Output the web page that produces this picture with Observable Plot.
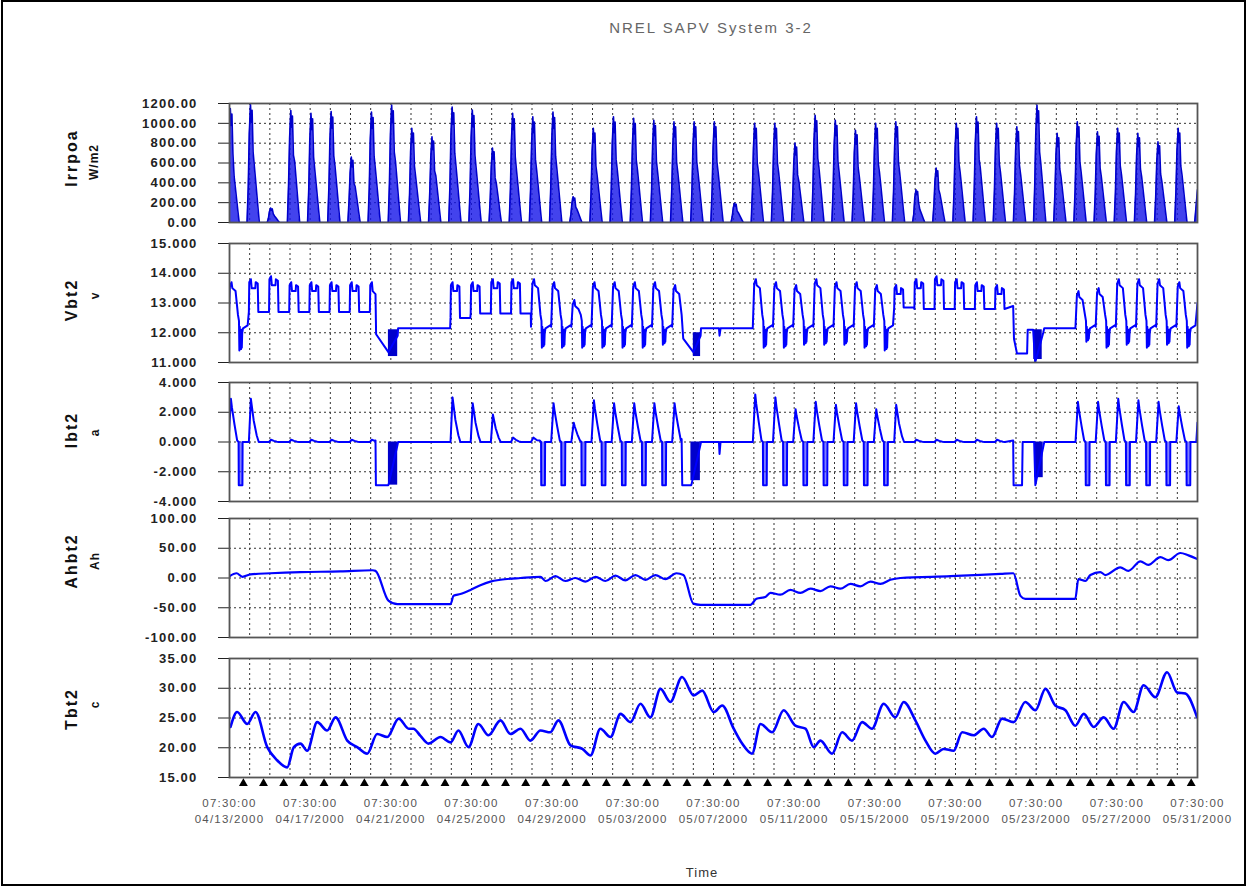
<!DOCTYPE html>
<html><head><meta charset="utf-8">
<script src="https://cdn.jsdelivr.net/npm/d3@7"></script>
<script src="https://cdn.jsdelivr.net/npm/@observablehq/plot@0.6"></script>
<style>
html,body{margin:0;padding:0;background:#fff;}
#page{position:relative;width:1247px;height:888px;overflow:hidden;background:#fff;font-family:"Liberation Sans",Arial,sans-serif;}
#frame{position:absolute;left:1px;top:0px;width:1241px;height:882px;border:2px solid #000;pointer-events:none;}
.t{position:absolute;white-space:nowrap;}
.yt{position:absolute;white-space:nowrap;transform:translate(-50%,-50%) rotate(-90deg);color:#111;font-weight:bold;}
#page svg text{letter-spacing:1.2px;}
</style></head><body>
<div id="page">
  <div id="frame"></div>
  <div class="t" style="left:711px;top:27px;transform:translate(-50%,-50%);font-size:15px;color:#666;letter-spacing:2px;">NREL SAPV System 3-2</div>
  <div class="yt" style="left:72px;top:158px;font-size:16px;letter-spacing:2px;">Irrpoa</div>
  <div class="yt" style="left:94px;top:162px;font-size:12px;letter-spacing:1px;">W/m2</div>
  <div class="yt" style="left:72px;top:300px;font-size:16px;letter-spacing:2px;">Vbt2</div>
  <div class="yt" style="left:95px;top:296px;font-size:12px;">v</div>
  <div class="yt" style="left:72px;top:430px;font-size:16px;letter-spacing:2px;">Ibt2</div>
  <div class="yt" style="left:95px;top:433px;font-size:12px;">a</div>
  <div class="yt" style="left:72px;top:561px;font-size:16px;letter-spacing:2px;">Ahbt2</div>
  <div class="yt" style="left:95px;top:561px;font-size:12px;letter-spacing:1px;">Ah</div>
  <div class="yt" style="left:72px;top:709px;font-size:16px;letter-spacing:2px;">Tbt2</div>
  <div class="yt" style="left:95px;top:705px;font-size:12px;">c</div>
  <div class="t" style="left:702px;top:872px;transform:translate(-50%,-50%);font-size:13px;color:#333;letter-spacing:1px;">Time</div>
</div>
<script>
// ---------- time axis ----------
const startUTC = Date.UTC(2000, 3, 13, 7, 30);   // 04/13/2000 07:30:00
const nDays = 48;                                  // to 05/31/2000 07:30:00
const labelDays = [0, 4, 8, 12, 16, 20, 24, 28, 32, 36, 40, 44, 48];

// ---------- Irrpoa (W/m2): daily peak and afternoon level read per day ----------
const irrPeak = [1150,1190,145,1130,1100,1120,660,1115,1185,950,865,1165,1135,750,1100,1065,1115,260,950,1065,1050,1030,1015,1015,1015,195,1000,1000,800,1080,1030,930,1000,1015,330,550,1000,1065,1000,965,1185,900,1015,915,950,900,815,950];
const irrMid  = [420,520,60,560,480,520,330,500,560,420,430,520,500,360,480,480,500,120,430,480,480,460,460,460,460,90,460,460,380,500,460,420,460,460,120,260,460,500,460,440,540,420,460,420,440,420,380,440];
const irrEnd = 330;

// ---------- battery regime per day: C = cycling, F = float/regulated, L = low flat ----------
const dayMode = ["C","F","F","F","F","F","F","F","L","L","L","F","F","F","F","C","C","C","C","C","C","C","C","L","L","L","C","C","C","C","C","C","C","F","F","F","F","F","F","L","L","L","C","C","C","C","C","C"];
// Vbt2 (v)
const vPeak = [13.7,13.8,13.9,13.7,13.7,13.7,13.7,13.7,null,null,null,13.7,13.7,13.8,13.8,13.8,13.7,13.1,13.7,13.7,13.7,13.7,13.6,null,null,null,13.8,13.7,13.6,13.8,13.7,13.7,13.6,13.6,13.8,13.9,13.8,13.7,13.6,null,null,null,13.4,13.5,13.8,13.8,13.8,13.7];
const vLow  = [11.4,12.7,12.7,12.7,12.7,12.7,12.7,12.7,12.15,12.15,12.15,12.5,12.65,12.65,12.65,11.5,11.5,11.5,11.5,11.5,11.5,11.6,11.5,12.15,12.15,12.15,11.5,11.5,11.6,11.6,11.6,11.5,11.4,12.85,12.8,12.8,12.8,12.8,12.8,12.15,12.15,12.15,11.7,11.5,11.6,11.5,11.6,11.5];
const vEnd = 13.0;
// Ibt2 (a)
const iPeak = [2.9,2.9,0.15,0.15,0.15,0.15,0.15,0.15,0,0,0,3.0,2.6,1.85,0.3,0.3,2.6,1.3,2.8,2.6,2.6,2.6,2.6,0,0,0,3.2,3.0,2.2,2.7,2.5,2.6,2.2,2.5,0.15,0.15,0.15,0.15,0.15,0,0,0,2.7,2.7,2.9,2.8,2.7,2.4];
const loadCurrent = -2.9;
const iEnd = 1.3;

// ---------- low-voltage events (read directly) ----------
const eventSpans = [[7.24, 8.36], [22.42, 23.38], [24.27, 24.35], [38.86, 40.4]];
const voltEventPts = [[7.24,13.3],[7.27,11.95],[7.88,11.35],[8.34,11.9],[8.36,12.15],
  [22.42,12.6],[22.5,11.8],[23.0,11.35],[23.36,11.9],[23.38,12.15],
  [24.27,12.15],[24.3,11.9],[24.35,12.15],
  [38.86,12.9],[38.9,11.8],[39.05,11.3],[39.55,11.3],[39.58,12.1],[39.85,12.1],[39.95,11.0],[40.35,12.0],[40.4,12.15]];
const voltBlobs = [[7.88,8.34,11.2,12.1],[23.0,23.36,11.2,12.0],[39.88,40.3,11.1,12.1]];
const currEventPts = [[7.24,0.1],[7.26,-2.9],[7.88,-2.9],[8.33,-0.2],[8.36,0],
  [22.42,0.2],[22.45,-2.9],[22.9,-2.9],[23.35,-0.2],[23.38,0],
  [24.27,0],[24.3,-0.8],[24.35,0],
  [38.86,0.1],[38.88,-2.9],[39.3,-2.9],[39.33,0],[39.9,0],[39.96,-2.9],[40.4,0]];
const currBlobs = [[7.88,8.34,-2.9,0],[22.88,23.35,-2.6,0],[39.93,40.35,-2.4,0]];

// ---------- Ahbt2 (Ah) ----------
const ahDays = [0,0.35,0.64,1.04,2.03,3.52,5.50,7.09,7.24,7.88,8.33,10.96,11.11,11.45,11.95,12.44,12.94,13.44,14.43,15.42,15.67,16.16,16.66,17.15,17.65,18.15,18.64,19.14,19.63,20.13,20.63,21.12,21.62,22.16,22.51,23.00,23.35,25.83,26.13,26.57,26.82,27.31,27.81,28.31,28.81,29.30,29.80,30.29,30.79,31.28,31.78,32.28,32.77,33.27,35.75,38.23,38.87,39.22,39.46,41.94,42.09,42.44,42.69,43.18,43.43,44.17,44.57,45.17,45.56,46.16,46.55,47.15,47.55,47.99];
const ahVals = [3,8,2,6,8,10,11,13,12,-38,-44,-44,-30,-27,-20,-12,-6,-3,0,2,-5,3,-5,0,-6,2,-5,4,-4,5,-3,5,-2,8,5,-43,-45,-45,-35,-32,-25,-28,-20,-25,-18,-22,-14,-18,-10,-14,-6,-10,-3,0,3,7,8,-30,-35,-35,-2,-5,5,10,5,18,12,28,22,35,30,42,38,32];

// ---------- Tbt2 (c) ----------
const tDays = [0.05,0.38,0.88,1.29,1.87,2.36,2.86,3.19,3.52,3.85,4.35,4.84,5.26,5.84,6.33,6.83,7.32,7.82,8.39,8.89,9.12,9.47,9.87,10.46,10.96,11.35,11.85,12.34,12.84,13.44,13.93,14.43,14.92,15.42,15.91,16.31,16.91,17.50,17.90,18.39,18.89,19.39,19.88,20.38,20.87,21.37,21.86,22.44,23.02,23.44,24.01,24.43,25.00,25.42,25.91,26.33,26.91,27.48,28.06,28.56,28.97,29.30,29.88,30.38,30.87,31.37,31.86,32.44,33.02,33.43,34.01,34.51,35.00,35.41,35.91,36.33,36.90,37.40,37.81,38.31,38.88,39.46,39.96,40.46,40.95,41.45,41.94,42.36,42.85,43.35,43.84,44.34,44.83,45.33,45.91,46.49,46.99,47.40,47.98];
const tVals = [23.5,26.0,24.0,26.0,20.1,17.9,16.7,20.1,20.7,19.5,24.3,22.9,25.1,21.2,20.1,19.0,22.3,21.8,24.9,23.2,23.2,22.0,20.7,21.8,20.9,22.9,20.1,24.0,22.1,24.6,22.3,23.2,21.2,22.9,22.6,24.6,20.4,19.8,18.7,23.2,21.8,25.7,24.3,27.4,25.1,29.9,27.7,31.9,28.8,29.6,26.0,27.1,23.2,20.7,19.0,24.0,22.6,26.3,23.7,23.2,20.1,21.2,19.0,22.6,21.2,24.3,23.2,27.4,25.1,27.7,24.6,21.2,19.0,19.8,19.5,22.6,22.1,23.2,21.8,24.9,24.3,27.7,26.3,29.9,27.1,26.3,23.7,25.7,23.5,25.1,23.2,27.7,26.0,30.5,28.5,32.7,29.3,29.1,25.1];

// ---------- helpers ----------
const DAY = 864e5;
const toDate = d => new Date(startUTC + d * DAY);
const inSpan = d => eventSpans.some(([a, b]) => d > a && d < b);
const rows = pts => pts.sort((a, b) => a[0] - b[0]).map(([d, v]) => ({date: toDate(d), v}));

// Irradiance rows (one daylight hump per day, shaped from the read peak / afternoon level)
const irrPts = [];
for (let k = 0; k < nDays; k++) {
  const p = irrPeak[k], m = irrMid[k];
  [[-0.13,0],[-0.07,m*0.7],[-0.02,p*0.75],[0.04,p],[0.08,p*0.85],[0.12,p*0.95],[0.17,p*0.6],[0.23,m*1.1],[0.31,m*0.75],[0.41,m*0.3],[0.48,0],[0.86,0]]
    .forEach(([o, v]) => irrPts.push([k + o, v]));
}
irrPts.push([48, irrEnd]);
const irrData = rows(irrPts);

// Voltage rows
const vPts = [];
for (let k = 0; k < nDays; k++) {
  const m = dayMode[k], p = vPeak[k], lo = vLow[k];
  let tpl;
  if (m === "C") tpl = [[-0.05,12.2],[0.02,p-0.15],[0.1,p],[0.14,p-0.2],[0.3,p-0.3],[0.42,12.6],[0.47,12.4],[0.49,lo],[0.51,12.2],[0.53,lo+0.05],[0.55,12.1],[0.57,lo+0.05],[0.59,12.1],[0.61,lo+0.1],[0.63,12.0],[0.67,12.15],[0.9,12.25]];
  else if (m === "F") tpl = [[-0.04,lo],[-0.02,p-0.1],[0.06,p],[0.1,p-0.3],[0.28,p-0.3],[0.3,p-0.1],[0.4,p-0.15],[0.43,lo],[0.94,lo]];
  else tpl = [[0,lo],[0.94,lo]];
  tpl.forEach(([o, v]) => { if (!inSpan(k + o)) vPts.push([k + o, v]); });
}
vPts.push(...voltEventPts, [48, vEnd]);
const vData = rows(vPts);

// Current rows
const iPts = [], negBars = [];
for (let k = 0; k < nDays; k++) {
  const m = dayMode[k], p = iPeak[k];
  let tpl;
  if (m === "C") {
    tpl = [[-0.05,0],[0.07,p],[0.12,p*0.8],[0.25,p*0.4],[0.38,0.1],[0.45,0],[0.46,loadCurrent],[0.64,loadCurrent],[0.65,0],[0.94,0]];
    if (!inSpan(k + 0.5)) negBars.push({a: toDate(k + 0.46), b: toDate(k + 0.64), lo: loadCurrent, hi: 0});
  } else if (m === "F") tpl = [[-0.04,0],[0.06,p],[0.2,p*0.5],[0.35,p*0.15],[0.45,0],[0.94,0]];
  else tpl = [[0,0],[0.94,0]];
  tpl.forEach(([o, v]) => { if (!inSpan(k + o)) iPts.push([k + o, v]); });
}
iPts.push(...currEventPts, [48, iEnd]);
const iData = rows(iPts);

const ahData = ahDays.map((d, i) => ({date: toDate(d), v: ahVals[i]}));
const tData = tDays.map((d, i) => ({date: toDate(d), v: tVals[i]}));
const blobRows = b => b.map(([a, c, lo, hi]) => ({a: toDate(a), b: toDate(c), lo, hi}));

const dayLines = d3.range(1, nDays).map(toDate);
const midnights = d3.range(0, nDays).map(k => toDate(k + 0.6875));
const fmtT = d3.utcFormat("%H:%M:%S"), fmtD = d3.utcFormat("%m/%d/%Y");

const BLUE = "#0000ff";
const page = document.getElementById("page");

function panel({top, yDomain, yTicks, digits, marks, bottom = 8, extra = []}) {
  const svg = Plot.plot({
    width: 1247, height: 8 + 119 + bottom,
    marginLeft: 229, marginRight: 50, marginTop: 8, marginBottom: bottom,
    style: {fontFamily: "'Liberation Sans', Arial, sans-serif", fontSize: "13px", fontWeight: "bold", color: "#222", background: "transparent", overflow: "visible"},
    x: {type: "utc", domain: [toDate(0), toDate(nDays)], axis: null},
    y: {domain: yDomain, ticks: yTicks, tickFormat: v => v.toFixed(digits), tickSize: 11, tickPadding: 21, label: null},
    marks: [
      Plot.ruleX(dayLines, {stroke: "#333", strokeDasharray: "2,3", strokeWidth: 1}),
      Plot.ruleY(yTicks, {stroke: "#333", strokeDasharray: "2,3", strokeWidth: 1}),
      ...marks,
      Plot.frame({stroke: "#555", strokeWidth: 1.8}),
      ...extra
    ]
  });
  svg.style.position = "absolute";
  svg.style.left = "0px";
  svg.style.top = (top - 8) + "px";
  svg.style.overflow = "visible";
  page.appendChild(svg);
}

// Irrpoa
panel({top: 103, yDomain: [0, 1200], yTicks: d3.range(0, 1201, 200), digits: 2, marks: [
  Plot.areaY(irrData, {x: "date", y: "v", fill: "#1414e8", fillOpacity: 0.8, clip: true}),
  Plot.lineY(irrData, {x: "date", y: "v", stroke: "#0000cc", strokeWidth: 1.6, clip: true})
]});

// Vbt2
panel({top: 242.5, yDomain: [11, 15], yTicks: [11, 12, 13, 14, 15], digits: 3, marks: [
  Plot.rect(blobRows(voltBlobs), {x1: "a", x2: "b", y1: "lo", y2: "hi", fill: "#0000cc", clip: true}),
  Plot.lineY(vData, {x: "date", y: "v", stroke: BLUE, strokeWidth: 2, clip: true})
]});

// Ibt2
panel({top: 381.5, yDomain: [-4, 4], yTicks: [-4, -2, 0, 2, 4], digits: 3, marks: [
  Plot.rect(negBars, {x1: "a", x2: "b", y1: "lo", y2: "hi", fill: "#2a2aff", fillOpacity: 0.6, clip: true}),
  Plot.rect(blobRows(currBlobs), {x1: "a", x2: "b", y1: "lo", y2: "hi", fill: "#0000cc", clip: true}),
  Plot.lineY(iData, {x: "date", y: "v", stroke: BLUE, strokeWidth: 2, clip: true})
]});

// Ahbt2
panel({top: 518, yDomain: [-100, 100], yTicks: [-100, -50, 0, 50, 100], digits: 2, marks: [
  Plot.lineY(ahData, {x: "date", y: "v", stroke: BLUE, strokeWidth: 2.2, curve: "monotone-x", clip: true})
]});

// Tbt2 with time axis
panel({top: 658, yDomain: [15, 35], yTicks: [15, 20, 25, 30, 35], digits: 2, bottom: 70, marks: [
  Plot.lineY(tData, {x: "date", y: "v", stroke: BLUE, strokeWidth: 2.6, curve: "monotone-x", clip: true})
], extra: [
  Plot.dot(midnights, {x: d => d, y: () => 15, symbol: "triangle", r: 3.3, fill: "#000", stroke: "none", dy: 6}),
  Plot.text(labelDays.map(toDate), {x: d => d, y: () => 15, text: d => fmtT(d) + "\n" + fmtD(d), dy: 32, lineHeight: 1.45, fill: "#555", fontSize: 11.5, fontWeight: "normal"})
]});
</script>
</body></html>
